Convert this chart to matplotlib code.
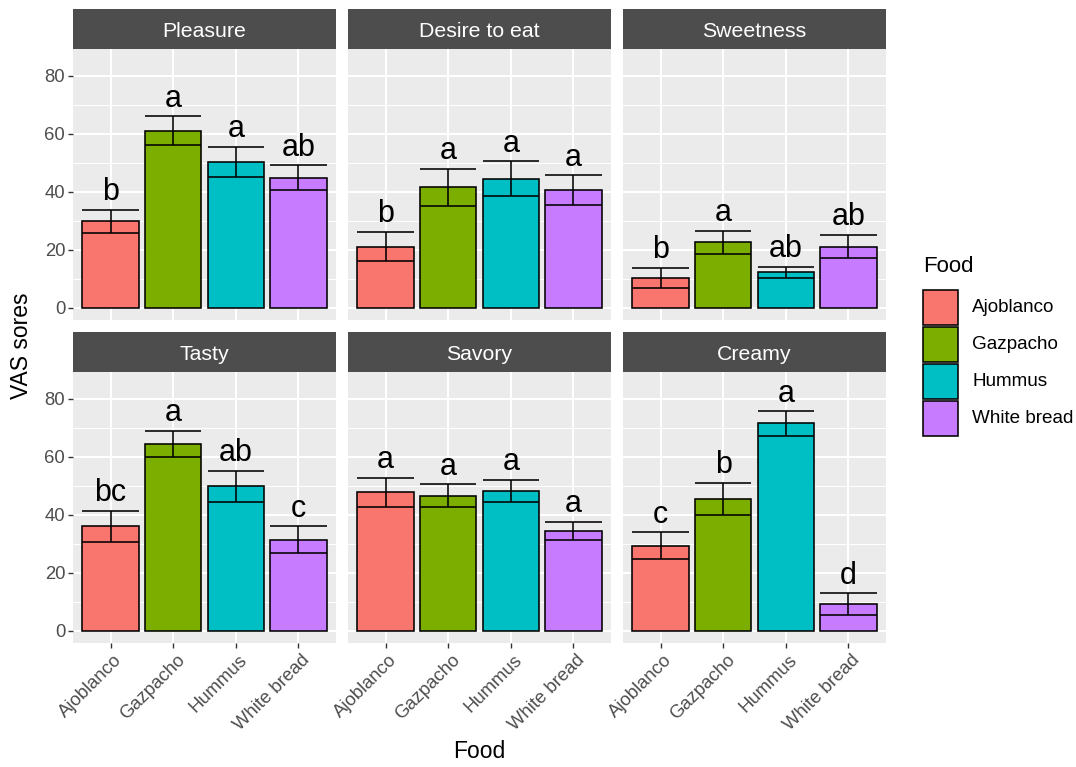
import matplotlib.pyplot as plt
from matplotlib.patches import Rectangle
from matplotlib.transforms import ScaledTranslation
import numpy as np

plt.rcParams['font.family'] = ['Liberation Sans', 'DejaVu Sans']

foods = ['Ajoblanco', 'Gazpacho', 'Hummus', 'White bread']
fill_colors = ['#F8766D', '#7CAE00', '#00BFC4', '#C77CFF']
attributes = ['Pleasure', 'Desire to eat', 'Sweetness', 'Tasty', 'Savory', 'Creamy']

# mean VAS score and standard error for each food, one list per attribute
pleasure_mean = [29.8, 61.1, 50.3, 44.8]
pleasure_se = [3.9, 5.0, 5.2, 4.3]
desire_mean = [21.1, 41.5, 44.5, 40.6]
desire_se = [5.1, 6.5, 6.0, 5.1]
sweetness_mean = [10.3, 22.5, 12.2, 21.1]
sweetness_se = [3.5, 4.1, 2.0, 4.1]
tasty_mean = [36.0, 64.4, 49.8, 31.4]
tasty_se = [5.3, 4.6, 5.3, 4.6]
savory_mean = [47.8, 46.6, 48.2, 34.4]
savory_se = [5.0, 3.9, 3.9, 3.2]
creamy_mean = [29.3, 45.4, 71.5, 9.2]
creamy_se = [4.6, 5.6, 4.2, 3.7]

# post-hoc grouping letters
pleasure_letters = ['b', 'a', 'a', 'ab']
desire_letters = ['b', 'a', 'a', 'a']
sweetness_letters = ['b', 'a', 'ab', 'ab']
tasty_letters = ['bc', 'a', 'ab', 'c']
savory_letters = ['a', 'a', 'a', 'a']
creamy_letters = ['c', 'b', 'a', 'd']

means = [pleasure_mean, desire_mean, sweetness_mean, tasty_mean, savory_mean, creamy_mean]
ses = [pleasure_se, desire_se, sweetness_se, tasty_se, savory_se, creamy_se]
letters = [pleasure_letters, desire_letters, sweetness_letters,
           tasty_letters, savory_letters, creamy_letters]

W, H = 1076, 767
fig = plt.figure(figsize=(W / 100, H / 100), dpi=100)

def px_axes(left, top, width, height):
    return fig.add_axes([left / W, 1 - (top + height) / H, width / W, height / H])

col_left = [73, 348, 623]
panel_w = 263
strip_top = [9, 332]
strip_h = 40
panel_h = 271
lw = 1.15

x = np.arange(1, 5)
for k, attr in enumerate(attributes):
    r, c = divmod(k, 3)
    left = col_left[c]
    st = px_axes(left, strip_top[r], panel_w, strip_h)
    st.set_facecolor('#4D4D4D')
    st.set_xticks([])
    st.set_yticks([])
    for s in st.spines.values():
        s.set_visible(False)
    st.text(0.5, 0.44, attr, color='white', fontsize=15.3, ha='center', va='center',
            transform=st.transAxes)

    ax = px_axes(left, strip_top[r] + strip_h, panel_w, panel_h)
    ax.set_facecolor('#EBEBEB')
    for s in ax.spines.values():
        s.set_visible(False)
    ax.set_axisbelow(True)
    ax.set_xlim(0.4, 4.6)
    ax.set_ylim(-4.25, 89.25)
    ax.set_yticks([0, 20, 40, 60, 80])
    ax.set_yticks([10, 30, 50, 70], minor=True)
    ax.set_xticks(x)
    ax.grid(True, which='major', color='white', linewidth=1.5)
    ax.grid(True, which='minor', axis='y', color='white', linewidth=0.75)
    ax.tick_params(which='minor', length=0)
    ax.tick_params(which='major', color='#333333', length=3.6, width=1.0,
                   labelsize=13.3, labelcolor='#4D4D4D', pad=2)

    m = np.array(means[k])
    e = np.array(ses[k])
    ax.bar(x, m, width=0.9, color=fill_colors, edgecolor='black', linewidth=lw, zorder=2)
    ax.vlines(x, m - e, m + e, color='black', linewidth=lw, zorder=3)
    ax.hlines(m - e, x - 0.45, x + 0.45, color='black', linewidth=lw, zorder=3)
    ax.hlines(m + e, x - 0.45, x + 0.45, color='black', linewidth=lw, zorder=3)
    for xi, top, lab in zip(x, m + e, letters[k]):
        ax.text(xi, top + 3.3, lab, fontsize=22, ha='center', va='baseline', zorder=4)

    if c == 0:
        ax.set_yticklabels(['0', '20', '40', '60', '80'])
    else:
        ax.tick_params(axis='y', which='both', length=0, labelleft=False)
    if r == 1:
        ax.set_xticklabels(foods, rotation=45, ha='right', va='top',
                           rotation_mode='anchor')
        shift = ScaledTranslation(3 / 100, -1 / 100, fig.dpi_scale_trans)
        for lab in ax.get_xticklabels():
            lab.set_transform(lab.get_transform() + shift)
    else:
        ax.tick_params(axis='x', length=0, labelbottom=False)

fig.text(22 / W, 1 - 346 / H, 'VAS sores', rotation=90, fontsize=16.5,
         ha='center', va='center')
fig.text(479.5 / W, 1 - 752 / H, 'Food', fontsize=16.5, ha='center', va='center')

# legend drawn as its own small axes, in pixel units
leg = px_axes(915, 250, 161, 190)
leg.set_xlim(0, 161)
leg.set_ylim(190, 0)
leg.axis('off')
leg.text(8, 16, 'Food', fontsize=16, ha='left', va='center')
for i, (food, col) in enumerate(zip(foods, fill_colors)):
    y0 = 39.5 + i * 37.3
    leg.add_patch(Rectangle((7.5, y0), 35.5, 35, facecolor=col, edgecolor='black',
                            linewidth=lw))
    leg.text(57, y0 + 17.5, food, fontsize=13.6, ha='left', va='center')

fig.savefig('out.png', dpi=100)
